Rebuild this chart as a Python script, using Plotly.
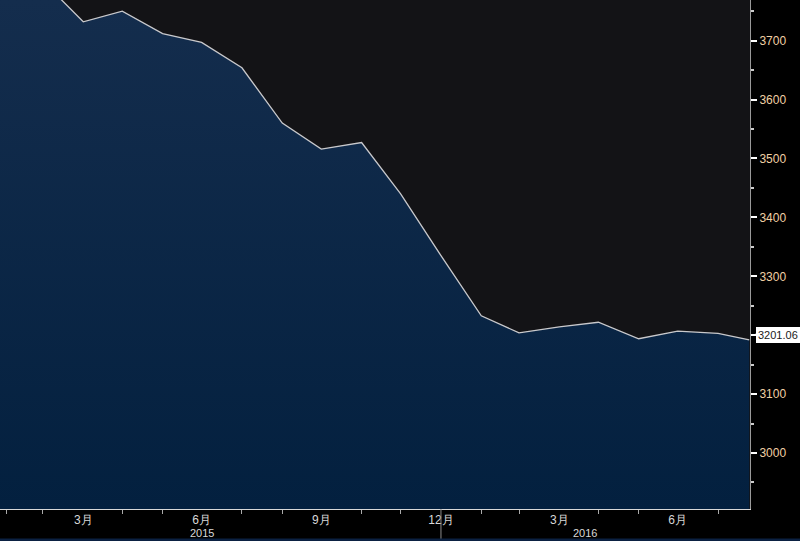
import plotly.graph_objects as go

# ---- data (month-end values) ----
dates = ["2014-12-31", "2015-01-31", "2015-02-28", "2015-03-31", "2015-04-30",
         "2015-05-31", "2015-06-30", "2015-07-31", "2015-08-31", "2015-09-30",
         "2015-10-31", "2015-11-30", "2015-12-31", "2016-01-31", "2016-02-29",
         "2016-03-31", "2016-04-30", "2016-05-31", "2016-06-30", "2016-07-31",
         "2016-08-24"]
values = [3810, 3822, 3801, 3732, 3750,
          3712, 3697, 3654, 3560, 3516,
          3527, 3440, 3335, 3233, 3204,
          3214, 3222, 3194, 3207, 3203,
          3192]
last_value = 3201.06

label_months = ["2015-03-31", "2015-06-30", "2015-09-30", "2015-12-31",
                "2016-03-31", "2016-06-30"]
label_texts = ["3月", "6月", "9月", "12月", "3月", "6月"]
minor_months = ["2015-01-31", "2015-02-28", "2015-04-30", "2015-05-31",
                "2015-07-31", "2015-08-31", "2015-10-31", "2015-11-30",
                "2016-01-31", "2016-02-29", "2016-04-30", "2016-05-31",
                "2016-07-31"]
year_labels = ["2015", "2016"]
year_pos = ["2015-06-30", "2016-04-20"]
year_sep = "2015-12-31"

y_ticks = [3000, 3100, 3200, 3300, 3400, 3500, 3600, 3700]
y_ticktext = ["3000", "3100", "", "3300", "3400", "3500", "3600", "3700"]
y_minor = [2950, 3050, 3150, 3250, 3350, 3450, 3550, 3650, 3750]

x_range = ["2015-01-26", "2016-08-24 14:00"]
y_range = [2905, 3769]

fig = go.Figure()
fig.add_trace(go.Scatter(
    x=dates, y=values, mode="lines",
    line=dict(color="#c9c9cc", width=1.3),
    fill="tozeroy",
    fillgradient=dict(type="vertical", start=y_range[0], stop=y_range[1],
                      colorscale=[[0, "#03203f"], [1, "#142d4d"]]),
    hoverinfo="skip", showlegend=False,
))

fig.update_layout(
    width=800, height=541,
    margin=dict(l=0, r=50, t=0, b=32),
    paper_bgcolor="#000000",
    plot_bgcolor="#131316",
    font=dict(family="Liberation Sans, DejaVu Sans, sans-serif", size=12, color="#d8d8d8"),
    showlegend=False,
)

fig.update_xaxes(
    type="date", range=x_range,
    showgrid=False, zeroline=False,
    showline=True, linecolor="#d8d8d8", linewidth=1,
    tickmode="array", tickvals=label_months, ticktext=label_texts,
    ticks="outside", ticklen=0, tickcolor="#000000",
    tickfont=dict(color="#d8d8d8", size=12),
    minor=dict(tickmode="array", tickvals=minor_months, ticks="outside",
               ticklen=4, tickcolor="#aaaaaa", showgrid=False),
)

fig.update_yaxes(
    range=y_range, side="right",
    showgrid=False, zeroline=False,
    showline=True, linecolor="#9a9a9a", linewidth=1,
    tickmode="array", tickvals=y_ticks, ticktext=y_ticktext,
    ticks="outside", ticklen=6, tickwidth=2, tickcolor="#ffffff",
    tickfont=dict(color="#f0d0a4", size=12),
    minor=dict(tickmode="array", tickvals=y_minor, ticks="outside",
               ticklen=3, tickcolor="#cccccc", showgrid=False),
)

# last value label
fig.add_annotation(
    x=1, xref="paper", y=last_value, yref="y",
    text=f"{last_value:.2f}", showarrow=False,
    xanchor="left", yanchor="middle", xshift=6,
    bgcolor="#ffffff", bordercolor="#ffffff", borderpad=1,
    font=dict(color="#1a1a1a", size=11),
)
fig.add_shape(type="path", xref="paper", yref="y",
              path=f"M 1.0065,{last_value} L 1.0145,{last_value + 11} L 1.0145,{last_value - 11} Z",
              fillcolor="#ffffff", line=dict(width=0), layer="above")

# year labels
for yl, yp in zip(year_labels, year_pos):
    fig.add_annotation(x=yp, xref="x", y=0, yref="paper", yshift=-24,
                       text=yl, showarrow=False, yanchor="middle",
                       font=dict(color="#d8d8d8", size=11))

# year separator
fig.add_shape(type="line", x0=year_sep, x1=year_sep, xref="x",
              y0=0, y1=-0.063, yref="paper",
              line=dict(color="#8a8a8a", width=1))

# bottom band
fig.add_shape(type="rect", x0=0, x1=1.0667, xref="paper",
              y0=-0.058, y1=-0.07, yref="paper",
              fillcolor="#0b2142", line=dict(width=0))

fig.write_html("out.html", config={"displayModeBar": False},
               post_script="document.body.style.margin='0';")
